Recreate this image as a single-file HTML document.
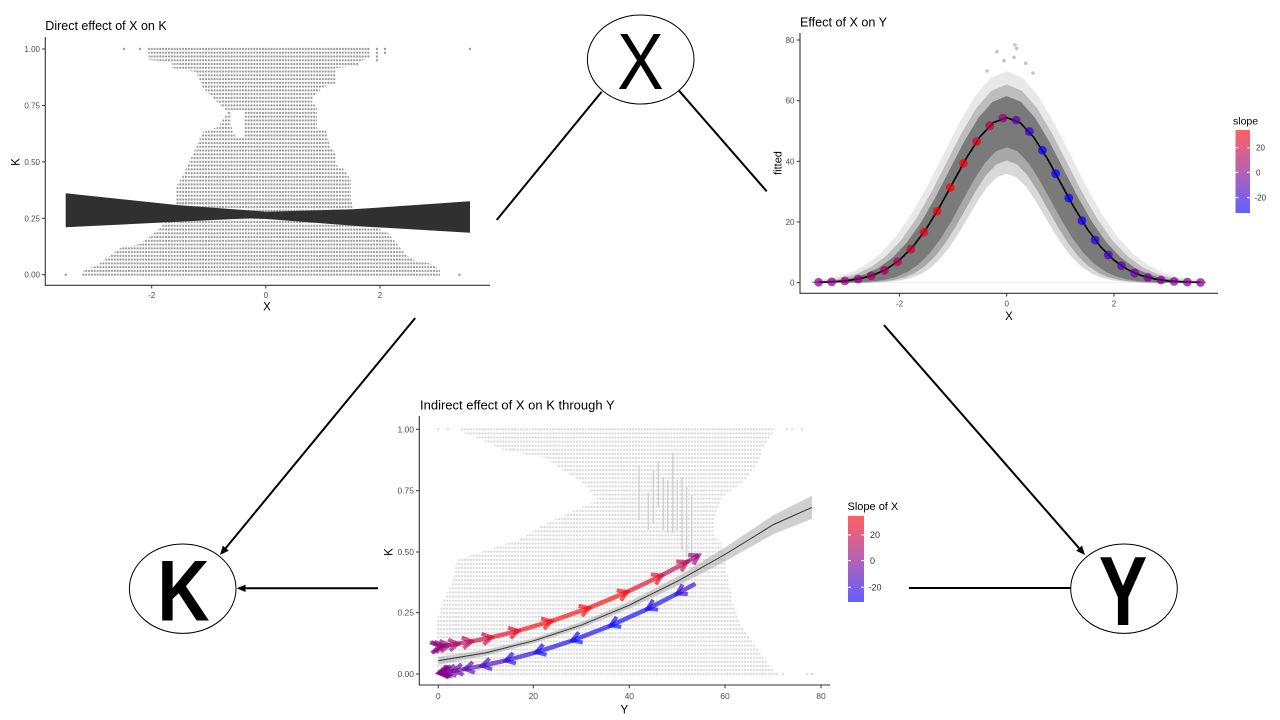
<!DOCTYPE html>
<html><head><meta charset="utf-8"><style>html,body{margin:0;padding:0;background:#fff;}svg{display:block}</style></head>
<body>
<svg width="1280" height="720" viewBox="0 0 1280 720" xmlns="http://www.w3.org/2000/svg" font-family="'Liberation Sans', Arial, sans-serif">
<defs>
<pattern id="pk" patternUnits="userSpaceOnUse" x="264.375" y="272.82" width="2.85" height="3.762"><circle cx="1.425" cy="1.881" r="1.12" fill="#9c9c9c"/></pattern>
<pattern id="pb" patternUnits="userSpaceOnUse" x="436.83" y="671.96" width="2.95" height="4.078"><circle cx="1.475" cy="2.039" r="1.15" fill="#d8d8d8"/></pattern>
<path id="bell" d="M-3.6,0 L-3.5,0.12 L-3.25,0.28 L-3,0.6 L-2.75,1.24 L-2.5,2.39 L-2.25,4.34 L-2,7.37 L-1.75,11.79 L-1.5,17.7 L-1.25,24.95 L-1,33.05 L-0.75,41.14 L-0.5,48.1 L-0.25,52.82 L0,54.5 L0.25,52.82 L0.5,48.1 L0.75,41.14 L1,33.05 L1.25,24.95 L1.5,17.7 L1.75,11.79 L2,7.37 L2.25,4.34 L2.5,2.39 L2.75,1.24 L3,0.6 L3.25,0.28 L3.5,0.12 L3.6,0 Z"/>
<clipPath id="trclip"><rect x="812" y="30" width="394" height="256"/></clipPath>
<linearGradient id="cb" x1="0" y1="0" x2="0" y2="1"><stop offset="0" stop-color="rgb(255,0,0)"/><stop offset="0.5" stop-color="rgb(135,0,135)"/><stop offset="1" stop-color="rgb(0,0,255)"/></linearGradient>
<marker id="mu1" markerUnits="userSpaceOnUse" markerWidth="1" markerHeight="1" orient="auto" overflow="visible"><path d="M-9,-5.5 L0,0 L-9,5.5" fill="none" stroke="rgb(138,0,131)" stroke-opacity="0.65" stroke-width="4"/></marker>
<marker id="mu2" markerUnits="userSpaceOnUse" markerWidth="1" markerHeight="1" orient="auto" overflow="visible"><path d="M-9,-5.5 L0,0 L-9,5.5" fill="none" stroke="rgb(142,0,128)" stroke-opacity="0.65" stroke-width="4"/></marker>
<marker id="mu3" markerUnits="userSpaceOnUse" markerWidth="1" markerHeight="1" orient="auto" overflow="visible"><path d="M-9,-5.5 L0,0 L-9,5.5" fill="none" stroke="rgb(147,0,121)" stroke-opacity="0.65" stroke-width="4"/></marker>
<marker id="mu4" markerUnits="userSpaceOnUse" markerWidth="1" markerHeight="1" orient="auto" overflow="visible"><path d="M-9,-5.5 L0,0 L-9,5.5" fill="none" stroke="rgb(156,0,112)" stroke-opacity="0.65" stroke-width="4"/></marker>
<marker id="mu5" markerUnits="userSpaceOnUse" markerWidth="1" markerHeight="1" orient="auto" overflow="visible"><path d="M-9,-5.5 L0,0 L-9,5.5" fill="none" stroke="rgb(169,0,97)" stroke-opacity="0.65" stroke-width="4"/></marker>
<marker id="mu6" markerUnits="userSpaceOnUse" markerWidth="1" markerHeight="1" orient="auto" overflow="visible"><path d="M-9,-5.5 L0,0 L-9,5.5" fill="none" stroke="rgb(186,0,77)" stroke-opacity="0.65" stroke-width="4"/></marker>
<marker id="mu7" markerUnits="userSpaceOnUse" markerWidth="1" markerHeight="1" orient="auto" overflow="visible"><path d="M-9,-5.5 L0,0 L-9,5.5" fill="none" stroke="rgb(207,0,54)" stroke-opacity="0.65" stroke-width="4"/></marker>
<marker id="mu8" markerUnits="userSpaceOnUse" markerWidth="1" markerHeight="1" orient="auto" overflow="visible"><path d="M-9,-5.5 L0,0 L-9,5.5" fill="none" stroke="rgb(228,0,30)" stroke-opacity="0.65" stroke-width="4"/></marker>
<marker id="mu9" markerUnits="userSpaceOnUse" markerWidth="1" markerHeight="1" orient="auto" overflow="visible"><path d="M-9,-5.5 L0,0 L-9,5.5" fill="none" stroke="rgb(246,0,10)" stroke-opacity="0.65" stroke-width="4"/></marker>
<marker id="mu10" markerUnits="userSpaceOnUse" markerWidth="1" markerHeight="1" orient="auto" overflow="visible"><path d="M-9,-5.5 L0,0 L-9,5.5" fill="none" stroke="rgb(255,0,0)" stroke-opacity="0.65" stroke-width="4"/></marker>
<marker id="mu11" markerUnits="userSpaceOnUse" markerWidth="1" markerHeight="1" orient="auto" overflow="visible"><path d="M-9,-5.5 L0,0 L-9,5.5" fill="none" stroke="rgb(250,0,5)" stroke-opacity="0.65" stroke-width="4"/></marker>
<marker id="mu12" markerUnits="userSpaceOnUse" markerWidth="1" markerHeight="1" orient="auto" overflow="visible"><path d="M-9,-5.5 L0,0 L-9,5.5" fill="none" stroke="rgb(230,0,28)" stroke-opacity="0.65" stroke-width="4"/></marker>
<marker id="mu13" markerUnits="userSpaceOnUse" markerWidth="1" markerHeight="1" orient="auto" overflow="visible"><path d="M-9,-5.5 L0,0 L-9,5.5" fill="none" stroke="rgb(194,0,68)" stroke-opacity="0.65" stroke-width="4"/></marker>
<marker id="mu14" markerUnits="userSpaceOnUse" markerWidth="1" markerHeight="1" orient="auto" overflow="visible"><path d="M-9,-5.5 L0,0 L-9,5.5" fill="none" stroke="rgb(149,0,119)" stroke-opacity="0.65" stroke-width="4"/></marker>
<marker id="ml1" markerUnits="userSpaceOnUse" markerWidth="1" markerHeight="1" orient="auto" overflow="visible"><path d="M-9,-5.5 L0,0 L-9,5.5" fill="none" stroke="rgb(49,0,211)" stroke-opacity="0.65" stroke-width="4"/></marker>
<marker id="ml2" markerUnits="userSpaceOnUse" markerWidth="1" markerHeight="1" orient="auto" overflow="visible"><path d="M-9,-5.5 L0,0 L-9,5.5" fill="none" stroke="rgb(16,0,241)" stroke-opacity="0.65" stroke-width="4"/></marker>
<marker id="ml3" markerUnits="userSpaceOnUse" markerWidth="1" markerHeight="1" orient="auto" overflow="visible"><path d="M-9,-5.5 L0,0 L-9,5.5" fill="none" stroke="rgb(1,0,254)" stroke-opacity="0.65" stroke-width="4"/></marker>
<marker id="ml4" markerUnits="userSpaceOnUse" markerWidth="1" markerHeight="1" orient="auto" overflow="visible"><path d="M-9,-5.5 L0,0 L-9,5.5" fill="none" stroke="rgb(3,0,253)" stroke-opacity="0.65" stroke-width="4"/></marker>
<marker id="ml5" markerUnits="userSpaceOnUse" markerWidth="1" markerHeight="1" orient="auto" overflow="visible"><path d="M-9,-5.5 L0,0 L-9,5.5" fill="none" stroke="rgb(18,0,239)" stroke-opacity="0.65" stroke-width="4"/></marker>
<marker id="ml6" markerUnits="userSpaceOnUse" markerWidth="1" markerHeight="1" orient="auto" overflow="visible"><path d="M-9,-5.5 L0,0 L-9,5.5" fill="none" stroke="rgb(40,0,219)" stroke-opacity="0.65" stroke-width="4"/></marker>
<marker id="ml7" markerUnits="userSpaceOnUse" markerWidth="1" markerHeight="1" orient="auto" overflow="visible"><path d="M-9,-5.5 L0,0 L-9,5.5" fill="none" stroke="rgb(64,0,198)" stroke-opacity="0.65" stroke-width="4"/></marker>
<marker id="ml8" markerUnits="userSpaceOnUse" markerWidth="1" markerHeight="1" orient="auto" overflow="visible"><path d="M-9,-5.5 L0,0 L-9,5.5" fill="none" stroke="rgb(86,0,178)" stroke-opacity="0.65" stroke-width="4"/></marker>
<marker id="ml9" markerUnits="userSpaceOnUse" markerWidth="1" markerHeight="1" orient="auto" overflow="visible"><path d="M-9,-5.5 L0,0 L-9,5.5" fill="none" stroke="rgb(104,0,163)" stroke-opacity="0.65" stroke-width="4"/></marker>
<marker id="ml10" markerUnits="userSpaceOnUse" markerWidth="1" markerHeight="1" orient="auto" overflow="visible"><path d="M-9,-5.5 L0,0 L-9,5.5" fill="none" stroke="rgb(116,0,152)" stroke-opacity="0.65" stroke-width="4"/></marker>
<marker id="ml11" markerUnits="userSpaceOnUse" markerWidth="1" markerHeight="1" orient="auto" overflow="visible"><path d="M-9,-5.5 L0,0 L-9,5.5" fill="none" stroke="rgb(124,0,144)" stroke-opacity="0.65" stroke-width="4"/></marker>
<marker id="ml12" markerUnits="userSpaceOnUse" markerWidth="1" markerHeight="1" orient="auto" overflow="visible"><path d="M-9,-5.5 L0,0 L-9,5.5" fill="none" stroke="rgb(130,0,140)" stroke-opacity="0.65" stroke-width="4"/></marker>
<marker id="ml13" markerUnits="userSpaceOnUse" markerWidth="1" markerHeight="1" orient="auto" overflow="visible"><path d="M-9,-5.5 L0,0 L-9,5.5" fill="none" stroke="rgb(132,0,137)" stroke-opacity="0.65" stroke-width="4"/></marker>
<marker id="ml14" markerUnits="userSpaceOnUse" markerWidth="1" markerHeight="1" orient="auto" overflow="visible"><path d="M-9,-5.5 L0,0 L-9,5.5" fill="none" stroke="rgb(134,0,136)" stroke-opacity="0.65" stroke-width="4"/></marker>
</defs>

<rect x="0" y="0" width="1280" height="720" fill="#fff"/>

<!-- ===== connecting lines ===== -->
<g stroke="#000" stroke-width="2" fill="none">
<line x1="601.7" y1="91.7" x2="496.7" y2="220"/>
<line x1="415.2" y1="318" x2="225.7" y2="548.1"/>
<line x1="679" y1="90.7" x2="766.7" y2="191.3"/>
<line x1="883.9" y1="325" x2="1079.1" y2="548.2"/>
<line x1="378" y1="588.3" x2="245" y2="588.3"/>
<line x1="909" y1="588" x2="1071" y2="588"/>
</g>
<g fill="#000">
<polygon points="220,555 228.8,550.6 222.8,545.6"/>
<polygon points="1085,555 1082,545.6 1076.2,550.7"/>
<polygon points="236.7,588.3 245.5,584.6 245.5,592"/>
</g>

<!-- ===== nodes ===== -->
<ellipse cx="640.7" cy="59.5" rx="53.3" ry="44.5" fill="#fff" stroke="#000" stroke-width="1"/>
<text transform="translate(640.5,89) scale(0.87,1)" text-anchor="middle" font-size="80" fill="#000">X</text>
<ellipse cx="182.7" cy="588.7" rx="53.3" ry="44.7" fill="#fff" stroke="#000" stroke-width="1"/>
<text transform="translate(183.5,620.7) scale(0.84,1)" text-anchor="middle" font-size="86" font-weight="bold" fill="#000">K</text>
<ellipse cx="1124" cy="588.7" rx="53.3" ry="44.7" fill="#fff" stroke="#000" stroke-width="1"/>
<text transform="translate(1123,625) scale(0.74,1)" text-anchor="middle" font-size="98" font-weight="bold" fill="#000">Y</text>

<!-- ===== top-left plot: Direct effect of X on K ===== -->
<text x="45.3" y="30" font-size="12.5" fill="#000">Direct effect of X on K</text>
<polygon fill="url(#pk)" points="148,47 370,47 370,58 358,62 358,66 336,68 336,84 332,84 322,88 311,100 317,108 317,130 326,130 330,147 336,153 336,165 343,168 351,180 351,205 176,205 176,187 183,175 190,160 196,147 203,132 218,127 228,112 215,100 203,88 196,72 172,68 172,62 149,60"/>
<polygon fill="#fff" points="231,110 244,110 244,138 236,138 231,126"/>
<polygon fill="url(#pk)" points="176,200 351,200 358,226 372,226 388,233 398,245 406,255 414,260 432,264 440,270 440,277 81,277 84,270 96,266 107,258 120,248 140,244 148,238 160,228 176,210"/>
<g fill="#9c9c9c">
<circle cx="124" cy="49" r="1.2"/><circle cx="140" cy="49" r="1.2"/><circle cx="470" cy="49" r="1.2"/>
<circle cx="377" cy="49" r="1.2"/><circle cx="377" cy="52.8" r="1.2"/><circle cx="377" cy="56.5" r="1.2"/><circle cx="377" cy="60.3" r="1.2"/>
<circle cx="385" cy="49" r="1.2"/><circle cx="385" cy="52.8" r="1.2"/>
<circle cx="65.7" cy="274.7" r="1.2"/><circle cx="459.5" cy="274.7" r="1.2"/>
</g>
<polygon fill="#303030" points="65.7,193.3 176.7,205 266.7,211.7 353,209.3 470,201.3 470,232.7 366.7,226.7 266.7,219 250,218.3 65.7,227.3"/>
<path d="M45.3,37 V285.3 H490" stroke="#333" stroke-width="1.1" fill="none"/>
<g stroke="#333" stroke-width="1">
<line x1="42" y1="49" x2="45.3" y2="49"/><line x1="42" y1="105.4" x2="45.3" y2="105.4"/><line x1="42" y1="161.8" x2="45.3" y2="161.8"/><line x1="42" y1="218.3" x2="45.3" y2="218.3"/><line x1="42" y1="274.7" x2="45.3" y2="274.7"/>
<line x1="151.7" y1="285.3" x2="151.7" y2="288.5"/><line x1="265.8" y1="285.3" x2="265.8" y2="288.5"/><line x1="380" y1="285.3" x2="380" y2="288.5"/>
</g>
<g font-size="8" fill="#4d4d4d" text-anchor="end">
<text x="40" y="52">1.00</text><text x="40" y="108.4">0.75</text><text x="40" y="164.8">0.50</text><text x="40" y="221.3">0.25</text><text x="40" y="277.7">0.00</text>
</g>
<g font-size="8" fill="#4d4d4d" text-anchor="middle">
<text x="151.7" y="298">-2</text><text x="265.8" y="298">0</text><text x="380" y="298">2</text>
</g>
<text x="267" y="310.5" font-size="11.5" text-anchor="middle" fill="#000">X</text>
<text transform="translate(19.5,162) rotate(-90)" font-size="11.5" text-anchor="middle" fill="#000">K</text>

<!-- ===== top-right plot: Effect of X on Y ===== -->
<text x="800" y="26.7" font-size="12.6" fill="#000">Effect of X on Y</text>
<g clip-path="url(#trclip)">
<g transform="translate(1006.7,282.7) scale(53.75,-3.03)">
<use href="#bell" transform="scale(1.18,1.28)" fill="#e8e8e8"/>
<use href="#bell" transform="scale(1.12,1.2)" fill="#bdbdbd"/>
<use href="#bell" transform="scale(1.06,1.13)" fill="#7a7a7a"/>
<use href="#bell" transform="scale(0.82,0.82)" fill="#a8a8a8"/>
<use href="#bell" transform="scale(0.76,0.74)" fill="#d8d8d8"/>
<use href="#bell" transform="scale(0.71,0.66)" fill="#ffffff"/>
</g>
</g>
<g transform="translate(1006.7,282.7) scale(53.75,-3.03)">
<path d="M-3.5,0.12 L-3.25,0.28 L-3,0.6 L-2.75,1.24 L-2.5,2.39 L-2.25,4.34 L-2,7.37 L-1.75,11.79 L-1.5,17.7 L-1.25,24.95 L-1,33.05 L-0.75,41.14 L-0.5,48.1 L-0.25,52.82 L0,54.5 L0.25,52.82 L0.5,48.1 L0.75,41.14 L1,33.05 L1.25,24.95 L1.5,17.7 L1.75,11.79 L2,7.37 L2.25,4.34 L2.5,2.39 L2.75,1.24 L3,0.6 L3.25,0.28 L3.6,0.08" fill="none" stroke="#000" stroke-width="1.6" vector-effect="non-scaling-stroke"/>
</g>
<g fill="#c4c4c4">
<circle cx="1015" cy="45" r="1.8"/><circle cx="1016.7" cy="48.5" r="1.8"/><circle cx="997" cy="51.7" r="1.8"/><circle cx="1014" cy="57.3" r="1.8"/><circle cx="1004" cy="60.7" r="1.8"/><circle cx="1025.7" cy="63.3" r="1.8"/><circle cx="987" cy="71" r="1.8"/><circle cx="1033" cy="73" r="1.8"/>
</g>
<g fill-opacity="0.72">
<circle cx="818.6" cy="282.3" r="4.4" fill="rgb(136,0,133)"/>
<circle cx="831.7" cy="281.9" r="4.4" fill="rgb(138,0,131)"/>
<circle cx="844.9" cy="280.9" r="4.4" fill="rgb(142,0,128)"/>
<circle cx="858.1" cy="279.1" r="4.4" fill="rgb(147,0,121)"/>
<circle cx="871.2" cy="275.8" r="4.4" fill="rgb(156,0,112)"/>
<circle cx="884.4" cy="270.3" r="4.4" fill="rgb(169,0,97)"/>
<circle cx="897.6" cy="261.7" r="4.4" fill="rgb(186,0,77)"/>
<circle cx="910.8" cy="249.1" r="4.4" fill="rgb(207,0,54)"/>
<circle cx="923.9" cy="232.3" r="4.4" fill="rgb(228,0,30)"/>
<circle cx="937.1" cy="211.3" r="4.4" fill="rgb(246,0,10)"/>
<circle cx="950.3" cy="187.5" r="4.4" fill="rgb(255,0,0)"/>
<circle cx="963.4" cy="163.3" r="4.4" fill="rgb(250,0,5)"/>
<circle cx="976.6" cy="141.5" r="4.4" fill="rgb(230,0,28)"/>
<circle cx="989.8" cy="125.6" r="4.4" fill="rgb(194,0,68)"/>
<circle cx="1002.9" cy="118" r="4.4" fill="rgb(149,0,119)"/>
<circle cx="1016.1" cy="120.1" r="4.4" fill="rgb(97,0,169)"/>
<circle cx="1029.3" cy="131.5" r="4.4" fill="rgb(49,0,211)"/>
<circle cx="1042.4" cy="150.3" r="4.4" fill="rgb(16,0,241)"/>
<circle cx="1055.6" cy="173.6" r="4.4" fill="rgb(1,0,254)"/>
<circle cx="1068.8" cy="198" r="4.4" fill="rgb(3,0,253)"/>
<circle cx="1082" cy="220.7" r="4.4" fill="rgb(18,0,239)"/>
<circle cx="1095.1" cy="240" r="4.4" fill="rgb(40,0,219)"/>
<circle cx="1108.3" cy="255" r="4.4" fill="rgb(64,0,198)"/>
<circle cx="1121.5" cy="265.8" r="4.4" fill="rgb(86,0,178)"/>
<circle cx="1134.6" cy="273" r="4.4" fill="rgb(104,0,163)"/>
<circle cx="1147.8" cy="277.4" r="4.4" fill="rgb(116,0,152)"/>
<circle cx="1161" cy="280" r="4.4" fill="rgb(124,0,144)"/>
<circle cx="1174.1" cy="281.4" r="4.4" fill="rgb(130,0,140)"/>
<circle cx="1187.3" cy="282.1" r="4.4" fill="rgb(132,0,137)"/>
<circle cx="1200.5" cy="282.5" r="4.4" fill="rgb(134,0,136)"/>
</g>
<path d="M800,33 V293.3 H1218" stroke="#333" stroke-width="1.1" fill="none"/>
<g stroke="#333" stroke-width="1">
<line x1="796.7" y1="40" x2="800" y2="40"/><line x1="796.7" y1="100.7" x2="800" y2="100.7"/><line x1="796.7" y1="161.3" x2="800" y2="161.3"/><line x1="796.7" y1="222" x2="800" y2="222"/><line x1="796.7" y1="282.7" x2="800" y2="282.7"/>
<line x1="899.5" y1="293.3" x2="899.5" y2="296.5"/><line x1="1006.7" y1="293.3" x2="1006.7" y2="296.5"/><line x1="1114" y1="293.3" x2="1114" y2="296.5"/>
</g>
<g font-size="8" fill="#4d4d4d" text-anchor="end">
<text x="794.5" y="43">80</text><text x="794.5" y="103.7">60</text><text x="794.5" y="164.3">40</text><text x="794.5" y="225">20</text><text x="794.5" y="285.7">0</text>
</g>
<g font-size="8" fill="#4d4d4d" text-anchor="middle">
<text x="899.5" y="306.5">-2</text><text x="1006.7" y="306.5">0</text><text x="1114" y="306.5">2</text>
</g>
<text x="1009" y="320" font-size="11.5" text-anchor="middle" fill="#000">X</text>
<text transform="translate(781.5,163) rotate(-90)" font-size="11" text-anchor="middle" fill="#000">fitted</text>
<text x="1233" y="124.5" font-size="10.5" fill="#000">slope</text>
<rect x="1235.5" y="130" width="14.5" height="83" fill="url(#cb)" fill-opacity="0.62"/>
<g stroke="#fff" stroke-width="1">
<line x1="1235.5" y1="147.7" x2="1238.5" y2="147.7"/><line x1="1247" y1="147.7" x2="1250" y2="147.7"/>
<line x1="1235.5" y1="172.3" x2="1238.5" y2="172.3"/><line x1="1247" y1="172.3" x2="1250" y2="172.3"/>
<line x1="1235.5" y1="197.7" x2="1238.5" y2="197.7"/><line x1="1247" y1="197.7" x2="1250" y2="197.7"/>
</g>
<g font-size="8" fill="#333">
<text x="1256" y="150.7">20</text><text x="1256" y="175.3">0</text><text x="1254.5" y="200.7">-20</text>
</g>

<!-- ===== bottom plot: Indirect effect ===== -->
<text x="420" y="409.5" font-size="13" fill="#000">Indirect effect of X on K through Y</text>
<polygon fill="url(#pb)" points="461,427.3 776,427.3 770,437 762,450 760,458 746,480 722,497 714,520 713,533 723,545 727,573 733,603 740,623 750,638 760,653 770,667 781,676 437,676 437,620 442,603 452,583 457,560 508,543 518,540 547,523 598,500 583,483 562,470 545,458 503,450 475,437 461,432"/>
<g fill="#d8d8d8">
<circle cx="438.3" cy="429.3" r="1.15"/><circle cx="448" cy="429.3" r="1.15"/><circle cx="787" cy="429.3" r="1.15"/><circle cx="792" cy="429.3" r="1.15"/><circle cx="802" cy="429.3" r="1.15"/>
<circle cx="783" cy="674" r="1.15"/><circle cx="807" cy="674" r="1.15"/><circle cx="812" cy="674" r="1.15"/>
</g>
<g stroke="#cfcfcf" stroke-width="1.3">
<line x1="639" y1="465" x2="639" y2="520"/><line x1="648.3" y1="493" x2="648.3" y2="530"/><line x1="653.3" y1="470" x2="653.3" y2="523"/><line x1="658.3" y1="462" x2="658.3" y2="507"/><line x1="663.3" y1="477" x2="663.3" y2="530"/><line x1="667.7" y1="480" x2="667.7" y2="533"/><line x1="672.7" y1="453" x2="672.7" y2="533"/><line x1="677.3" y1="480" x2="677.3" y2="530"/><line x1="682" y1="477" x2="682" y2="550"/><line x1="686.7" y1="487" x2="686.7" y2="557"/><line x1="691.7" y1="495" x2="691.7" y2="560"/>
</g>
<polygon fill="#a0a0a0" fill-opacity="0.5" points="438.3,656.8 486.2,649.7 534.1,638.2 582,621.8 629.9,601.4 677.8,576.6 725.7,547 773.6,515 811.9,495.9 811.9,518.9 773.6,534 725.7,561 677.8,585.6 629.9,608.4 582,627.8 534.1,643.2 486.2,655.7 438.3,664.8"/>
<polyline fill="none" stroke="#333" stroke-width="1" points="438.3,660.8 486.2,652.7 534.1,640.7 582,624.8 629.9,604.9 677.8,581.1 725.7,554 773.6,524.5 811.9,507.4"/>
<g fill="none" stroke-width="4.5" stroke-opacity="0.65">
<line x1="438.9" y1="646.5" x2="439.6" y2="646.4" stroke="rgb(138,0,131)" marker-end="url(#mu1)"/>
<line x1="439.6" y1="646.4" x2="441.1" y2="646.2" stroke="rgb(142,0,128)" marker-end="url(#mu2)"/>
<line x1="441.1" y1="646.2" x2="444" y2="645.8" stroke="rgb(147,0,121)" marker-end="url(#mu3)"/>
<line x1="444" y1="645.8" x2="449.2" y2="645.1" stroke="rgb(156,0,112)" marker-end="url(#mu4)"/>
<line x1="449.2" y1="645.1" x2="457.9" y2="643.7" stroke="rgb(169,0,97)" marker-end="url(#mu5)"/>
<line x1="457.9" y1="643.7" x2="471.5" y2="641.4" stroke="rgb(186,0,77)" marker-end="url(#mu6)"/>
<line x1="471.5" y1="641.4" x2="491.4" y2="637.4" stroke="rgb(207,0,54)" marker-end="url(#mu7)"/>
<line x1="491.4" y1="637.4" x2="518.1" y2="630.9" stroke="rgb(228,0,30)" marker-end="url(#mu8)"/>
<line x1="518.1" y1="630.9" x2="551.2" y2="621.2" stroke="rgb(246,0,10)" marker-end="url(#mu9)"/>
<line x1="551.2" y1="621.2" x2="588.8" y2="608" stroke="rgb(255,0,0)" marker-end="url(#mu10)"/>
<line x1="588.8" y1="608" x2="627.1" y2="592" stroke="rgb(250,0,5)" marker-end="url(#mu11)"/>
<line x1="627.1" y1="592" x2="661.5" y2="575.5" stroke="rgb(230,0,28)" marker-end="url(#mu12)"/>
<line x1="661.5" y1="575.5" x2="686.7" y2="562.1" stroke="rgb(194,0,68)" marker-end="url(#mu13)"/>
<line x1="686.7" y1="562.1" x2="698.7" y2="555.3" stroke="rgb(149,0,119)" marker-end="url(#mu14)"/>

<line x1="695.4" y1="583.7" x2="677.3" y2="593.6" stroke="rgb(49,0,211)" marker-end="url(#ml1)"/>
<line x1="677.3" y1="593.6" x2="647.6" y2="608.9" stroke="rgb(16,0,241)" marker-end="url(#ml2)"/>
<line x1="647.6" y1="608.9" x2="610.7" y2="625.6" stroke="rgb(1,0,254)" marker-end="url(#ml3)"/>
<line x1="610.7" y1="625.6" x2="572.3" y2="640.6" stroke="rgb(3,0,253)" marker-end="url(#ml4)"/>
<line x1="572.3" y1="640.6" x2="536.3" y2="652.3" stroke="rgb(18,0,239)" marker-end="url(#ml5)"/>
<line x1="536.3" y1="652.3" x2="505.8" y2="660.5" stroke="rgb(40,0,219)" marker-end="url(#ml6)"/>
<line x1="505.8" y1="660.5" x2="482" y2="665.8" stroke="rgb(64,0,198)" marker-end="url(#ml7)"/>
<line x1="482" y1="665.8" x2="465" y2="669" stroke="rgb(86,0,178)" marker-end="url(#ml8)"/>
<line x1="465" y1="669" x2="453.7" y2="670.9" stroke="rgb(104,0,163)" marker-end="url(#ml9)"/>
<line x1="453.7" y1="670.9" x2="446.6" y2="671.9" stroke="rgb(116,0,152)" marker-end="url(#ml10)"/>
<line x1="446.6" y1="671.9" x2="442.6" y2="672.5" stroke="rgb(124,0,144)" marker-end="url(#ml11)"/>
<line x1="442.6" y1="672.5" x2="440.4" y2="672.8" stroke="rgb(130,0,140)" marker-end="url(#ml12)"/>
<line x1="440.4" y1="672.8" x2="439.2" y2="672.9" stroke="rgb(132,0,137)" marker-end="url(#ml13)"/>
<line x1="439.2" y1="672.9" x2="438.7" y2="673" stroke="rgb(134,0,136)" marker-end="url(#ml14)"/>
</g>
<path d="M419.3,416 V685 H830" stroke="#333" stroke-width="1.1" fill="none"/>
<g stroke="#333" stroke-width="1">
<line x1="416" y1="429.3" x2="419.3" y2="429.3"/><line x1="416" y1="490.7" x2="419.3" y2="490.7"/><line x1="416" y1="552" x2="419.3" y2="552"/><line x1="416" y1="612.7" x2="419.3" y2="612.7"/><line x1="416" y1="674" x2="419.3" y2="674"/>
<line x1="438.3" y1="685" x2="438.3" y2="688.3"/><line x1="533.3" y1="685" x2="533.3" y2="688.3"/><line x1="629.3" y1="685" x2="629.3" y2="688.3"/><line x1="725" y1="685" x2="725" y2="688.3"/><line x1="821" y1="685" x2="821" y2="688.3"/>
</g>
<g font-size="8.5" fill="#4d4d4d" text-anchor="end">
<text x="414" y="432.3">1.00</text><text x="414" y="493.7">0.75</text><text x="414" y="555">0.50</text><text x="414" y="615.7">0.25</text><text x="414" y="677">0.00</text>
</g>
<g font-size="8.5" fill="#4d4d4d" text-anchor="middle">
<text x="438.3" y="699">0</text><text x="533.3" y="699">20</text><text x="629.3" y="699">40</text><text x="725" y="699">60</text><text x="821" y="699">80</text>
</g>
<text x="624.3" y="713.3" font-size="11.5" text-anchor="middle" fill="#000">Y</text>
<text transform="translate(392.5,552) rotate(-90)" font-size="11.5" text-anchor="middle" fill="#000">K</text>
<text x="847.5" y="510" font-size="11" fill="#000">Slope of X</text>
<rect x="848" y="516" width="16" height="86" fill="url(#cb)" fill-opacity="0.62"/>
<g stroke="#fff" stroke-width="1">
<line x1="848" y1="535" x2="851" y2="535"/><line x1="861" y1="535" x2="864" y2="535"/>
<line x1="848" y1="560.7" x2="851" y2="560.7"/><line x1="861" y1="560.7" x2="864" y2="560.7"/>
<line x1="848" y1="587.3" x2="851" y2="587.3"/><line x1="861" y1="587.3" x2="864" y2="587.3"/>
</g>
<g font-size="9" fill="#333">
<text x="870" y="538.2">20</text><text x="870" y="563.9">0</text><text x="868.5" y="590.5">-20</text>
</g>
</svg>
</body></html>
